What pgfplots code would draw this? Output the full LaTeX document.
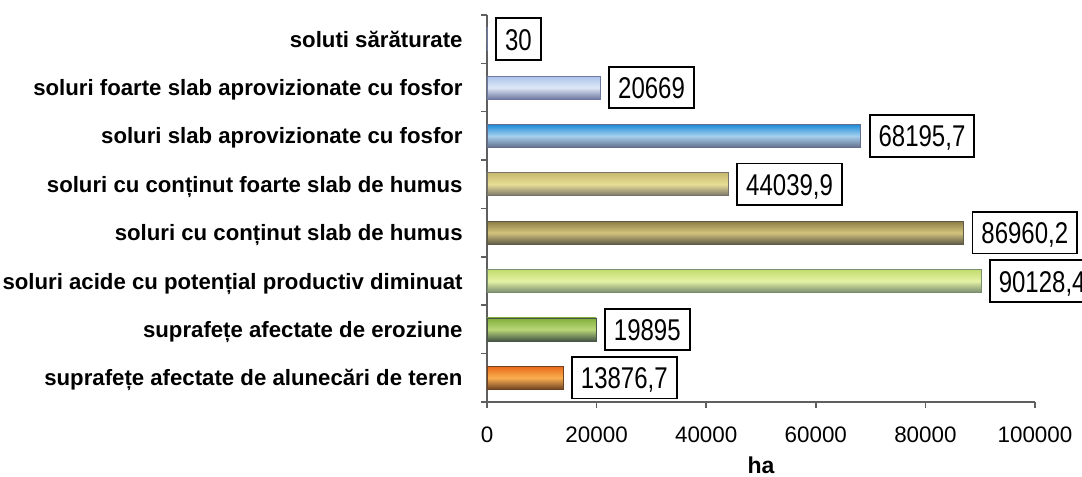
\documentclass[border=0pt]{standalone}
\usepackage{fontspec}
\setmainfont{Liberation Sans}
\newfontfamily\valfont[FakeStretch=0.8]{Liberation Sans}
\usepackage{pgfplots}
\pgfplotsset{compat=1.18}
\usetikzlibrary{calc}

\definecolor{AxisGray}{RGB}{95,95,95}
% top / middle / bottom colours of each bar
\definecolor{OrT}{RGB}{232,105,25}\definecolor{OrM}{RGB}{250,175,80}\definecolor{OrB}{RGB}{110,65,35}
\definecolor{GrT}{RGB}{130,175,60}\definecolor{GrM}{RGB}{185,215,120}\definecolor{GrB}{RGB}{70,85,70}
\definecolor{LgT}{RGB}{195,220,110}\definecolor{LgM}{RGB}{228,242,165}\definecolor{LgB}{RGB}{120,140,110}
\definecolor{OlT}{RGB}{140,125,70}\definecolor{OlM}{RGB}{210,195,125}\definecolor{OlB}{RGB}{95,90,70}
\definecolor{TaT}{RGB}{200,185,110}\definecolor{TaM}{RGB}{232,222,150}\definecolor{TaB}{RGB}{120,115,105}
\definecolor{BlT}{RGB}{30,140,215}\definecolor{BlM}{RGB}{165,208,238}\definecolor{BlB}{RGB}{100,110,140}
\definecolor{LbT}{RGB}{170,195,235}\definecolor{LbM}{RGB}{222,232,247}\definecolor{LbB}{RGB}{110,120,160}

\pgfplotsset{
  cylbar/.style n args={3}{top color=#1, bottom color=#3, middle color=#2, draw=#3, line width=0.4pt}
}

\begin{document}
\begin{tikzpicture}
\begin{axis}[
    name=ax,
    xbar, bar shift=0pt, bar width=11.5pt,
    scale only axis, width=274pt, height=193.5pt,
    xmin=0, xmax=100000, ymin=-0.5, ymax=7.5,
    clip=false,
    axis lines=left,
    axis line style={-, draw=AxisGray, line width=0.75pt},
    tick style={draw=AxisGray, line width=0.75pt},
    tick align=outside, major tick length=3pt,
    scaled x ticks=false,
    xtick={0,20000,40000,60000,80000,100000},
    xticklabels={0,20000,40000,60000,80000,100000},
    xticklabel style={font=\fontsize{11.2}{13}\selectfont, anchor=north,
        inner sep=0pt, text height=8.3pt, text depth=0pt, yshift=-9pt},
    ytick={-0.5,0.5,1.5,2.5,3.5,4.5,5.5,6.5,7.5},
    yticklabels={},
    extra y ticks={0,1,2,3,4,5,6,7},
    extra y tick labels={
      suprafețe afectate de alunecări de teren,
      suprafețe afectate de eroziune,
      soluri acide cu potențial productiv diminuat,
      soluri cu conținut slab de humus,
      soluri cu conținut foarte slab de humus,
      soluri slab aprovizionate cu fosfor,
      soluri foarte slab aprovizionate cu fosfor,
      soluti sărăturate},
    extra y tick style={major tick length=0pt},
    yticklabel style={font=\bfseries\fontsize{11.1}{13}\selectfont, anchor=east,
        inner sep=0pt, text height=8pt, text depth=0pt, xshift=-12pt},
    xlabel={ha},
    xlabel style={font=\bfseries\fontsize{11.5}{13}\selectfont,
        at={(axis description cs:0.5,0)}, anchor=base, yshift=-36pt},
    point meta=explicit symbolic,
    nodes near coords={\pgfplotspointmeta},
    every node near coord/.style={draw=black, line width=0.9pt, fill=white,
        anchor=west, xshift=4pt, inner xsep=4.5pt, inner ysep=0pt,
        minimum height=20.8pt, text height=11pt, text depth=0pt,
        font=\valfont\fontsize{15}{18}\selectfont, text=black},
]
\addplot[cylbar={OrT}{OrM}{OrB}] coordinates {(13876.7,0) [13876,7]};
\addplot[cylbar={GrT}{GrM}{GrB}] coordinates {(19895,1) [19895]};
\addplot[cylbar={LgT}{LgM}{LgB}] coordinates {(90128.4,2) [90128,4]};
\addplot[cylbar={OlT}{OlM}{OlB}] coordinates {(86960.2,3) [86960,2]};
\addplot[cylbar={TaT}{TaM}{TaB}] coordinates {(44039.9,4) [44039,9]};
\addplot[cylbar={BlT}{BlM}{BlB}] coordinates {(68195.7,5) [68195,7]};
\addplot[cylbar={LbT}{LbM}{LbB}] coordinates {(20669,6) [20669]};
\addplot[cylbar={LbT}{LbM}{LbB}] coordinates {(30,7) [30]};
\end{axis}
\pgfresetboundingbox
\path[use as bounding box] ($(ax.south west)+(-243.5pt,-37.5pt)$) rectangle ($(ax.north east)+(23.5pt,7.5pt)$);
\end{tikzpicture}
\end{document}
